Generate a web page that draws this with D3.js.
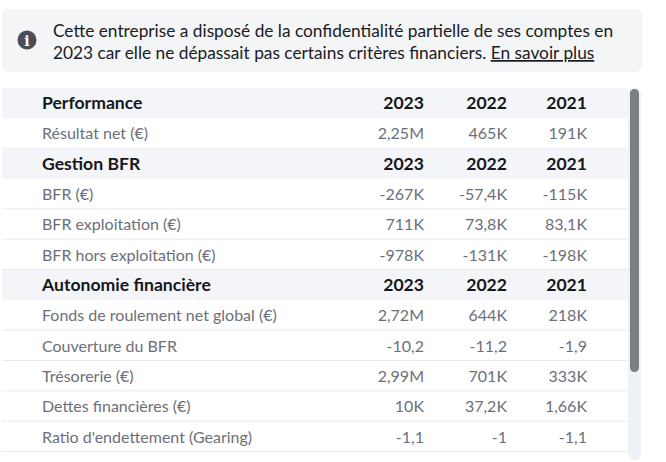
<!DOCTYPE html>
<html>
<head>
<meta charset="utf-8">
<script src="https://cdn.jsdelivr.net/npm/d3@7"></script>
<style>
  body { margin: 0; background: #fff; }
  svg { display: block; font-family: Lato, sans-serif; }
</style>
</head>
<body>
<svg id="chart" width="666" height="462"></svg>
<script>
// data
var years = ["2023", "2022", "2021"];
var sections = ["Performance", "Gestion BFR", "Autonomie financière"];
var labels = [
  ["Résultat net (€)"],
  ["BFR (€)", "BFR exploitation (€)", "BFR hors exploitation (€)"],
  ["Fonds de roulement net global (€)", "Couverture du BFR", "Trésorerie (€)",
   "Dettes financières (€)", "Ratio d'endettement (Gearing)"]
];
var values = [
  [["2,25M", "465K", "191K"]],
  [["-267K", "-57,4K", "-115K"], ["711K", "73,8K", "83,1K"], ["-978K", "-131K", "-198K"]],
  [["2,72M", "644K", "218K"], ["-10,2", "-11,2", "-1,9"], ["2,99M", "701K", "333K"],
   ["10K", "37,2K", "1,66K"], ["-1,1", "-1", "-1,1"]]
];
var notice = ["Cette entreprise a disposé de la confidentialité partielle de ses comptes en",
              "2023 car elle ne dépassait pas certains critères financiers. "];
var linkText = "En savoir plus";

// flatten to rows: header row then its lines
var rows = [];
sections.forEach(function (s, i) {
  rows.push({ type: "head", label: s, cells: years });
  labels[i].forEach(function (l, j) {
    rows.push({ type: "line", label: l, cells: values[i][j] });
  });
});

var svg = d3.select("#chart");

//notice banner
var banner = svg.append("g");
banner.append("rect")
  .attr("x", 2).attr("y", 9).attr("width", 640).attr("height", 63)
  .attr("rx", 6).attr("fill", "#f4f5f7");
banner.append("circle")
  .attr("cx", 27).attr("cy", 40).attr("r", 9.5).attr("fill", "#4b4e58");
banner.append("text")
  .attr("x", 27).attr("y", 45.5).attr("text-anchor", "middle")
  .attr("font-family", "DejaVu Serif, serif").attr("font-weight", "bold")
  .attr("font-size", 14).attr("fill", "#fff").text("i");
var nt = banner.append("text")
  .attr("font-size", 17.3).attr("fill", "#1b1c24");
nt.append("tspan").attr("x", 53).attr("y", 37).text(notice[0]);
nt.append("tspan").attr("x", 53).attr("y", 59).text(notice[1])
  .append("tspan").attr("text-decoration", "underline").text(linkText);

//table
var y = d3.scaleBand()
  .domain(d3.range(rows.length))
  .range([88, 452]);

var x = d3.scaleOrdinal()
  .domain(years)
  .range([424, 507, 587]);

var size = function (d) { return d.type === "head" ? 17.6 : 16; };
var weight = function (d) { return d.type === "head" ? "bold" : "normal"; };
var colour = function (d) { return d.type === "head" ? "#16171c" : "#6c6f7a"; };

var row = svg.append("g").selectAll("g")
  .data(rows)
  .join("g")
  .attr("transform", function (d, i) { return "translate(0," + y(i) + ")"; });

row.filter(function (d) { return d.type === "head"; })
  .append("rect")
  .attr("x", 2).attr("width", 626).attr("height", y.bandwidth())
  .attr("fill", "#f4f5f8");

row.filter(function (d) { return d.type === "line"; })
  .append("line")
  .attr("x1", 2).attr("x2", 628)
  .attr("y1", y.bandwidth() - 0.5).attr("y2", y.bandwidth() - 0.5)
  .attr("stroke", "#e9eaee");

row.append("text")
  .attr("x", 42)
  .attr("y", y.bandwidth() / 2 + 6)
  .attr("font-size", size)
  .attr("font-weight", weight)
  .attr("fill", colour)
  .text(function (d) { return d.label; });

row.selectAll(".cell")
  .data(function (d) {
    return d.cells.map(function (c, k) { return { v: c, yr: years[k], type: d.type }; });
  })
  .join("text")
  .attr("class", "cell")
  .attr("x", function (d) { return x(d.yr); })
  .attr("y", y.bandwidth() / 2 + 6)
  .attr("text-anchor", "end")
  .attr("font-size", size)
  .attr("font-weight", weight)
  .attr("fill", colour)
  .text(function (d) { return d.v; });

//scrollbar
svg.append("rect")
  .attr("x", 628).attr("y", 88).attr("width", 13).attr("height", 372)
  .attr("rx", 6).attr("fill", "#eef1f6");
svg.append("rect")
  .attr("x", 630).attr("y", 89).attr("width", 9).attr("height", 283)
  .attr("rx", 4.5).attr("fill", "#7b7e85");
</script>
</body>
</html>
